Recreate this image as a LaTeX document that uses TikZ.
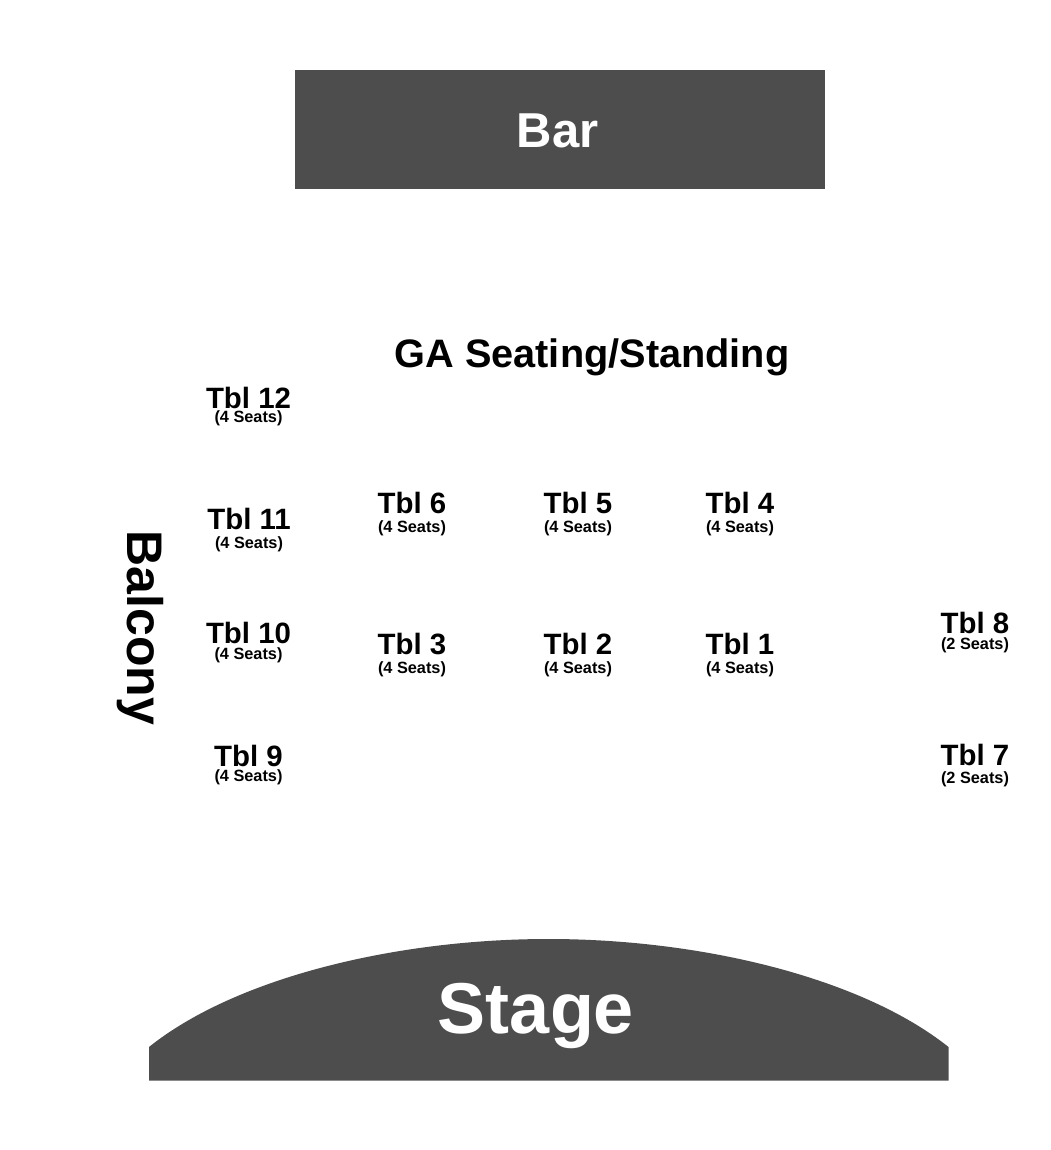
\documentclass[tikz,border=0pt]{standalone}
\usepackage{fontspec}
\setmainfont{Liberation Sans}
\definecolor{blockgray}{HTML}{4D4D4D}
\tikzset{
  tname/.style={inner sep=0pt,font=\fontsize{29.4}{30}\selectfont\bfseries,text=black},
  tseat/.style={inner sep=0pt,font=\fontsize{16.3}{17}\selectfont\bfseries,text=black},
  big/.style={inner sep=0pt,font=\fontsize{39.7}{40}\selectfont\bfseries,text=black},
}
\newcommand{\tbl}[6]{%
  \node[tname] (#1n) at (#3,#4) {#2};
  \node[tseat] (#1s) at (#3,#5) {(#6 Seats)};
}
\begin{document}
\begin{tikzpicture}[x=1pt,y=-1pt]
\useasboundingbox (0,0) rectangle (1050,1150);
\fill[white] (0,0) rectangle (1050,1150);
\node[fill=blockgray,minimum width=530pt,minimum height=119pt,inner sep=0pt] (bar) at (560,129.3) {};
\node[text=white,inner sep=0pt,font=\fontsize{49}{52}\selectfont\bfseries] (barl) at (557.5,131) {Bar};
\fill[blockgray] (149,1047) .. controls (235,978) and (395,939) .. (548.5,939) .. controls (702,939) and (862,978) .. (948.5,1047) -- (948.5,1080.5) -- (149,1080.5) -- cycle;
\node[text=white,inner sep=0pt,font=\fontsize{72}{74}\selectfont\bfseries] (stage) at (536,1016) {Stage};
\node[big] (ga) at (592,357) {GA Seating/Standing};
\node[inner sep=0pt,text=black,rotate=-90,font=\fontsize{50}{52}\selectfont\bfseries] (balc) at (140,628) {Balcony};
\tbl{a}{Tbl 12}{248.5}{398}{418}{4}
\tbl{b}{Tbl 11}{249}{519}{544}{4}
\tbl{c}{Tbl 10}{248.5}{633}{655}{4}
\tbl{d}{Tbl 9}{248.5}{756}{777}{4}
\tbl{e}{Tbl 6}{412}{503}{528}{4}
\tbl{f}{Tbl 5}{578}{503}{528}{4}
\tbl{g}{Tbl 4}{740}{503}{528}{4}
\tbl{h}{Tbl 3}{412}{644}{669}{4}
\tbl{i}{Tbl 2}{578}{644}{669}{4}
\tbl{j}{Tbl 1}{740}{644}{669}{4}
\tbl{k}{Tbl 8}{975}{623}{645}{2}
\tbl{l}{Tbl 7}{975}{755}{779}{2}
\end{tikzpicture}
\end{document}
